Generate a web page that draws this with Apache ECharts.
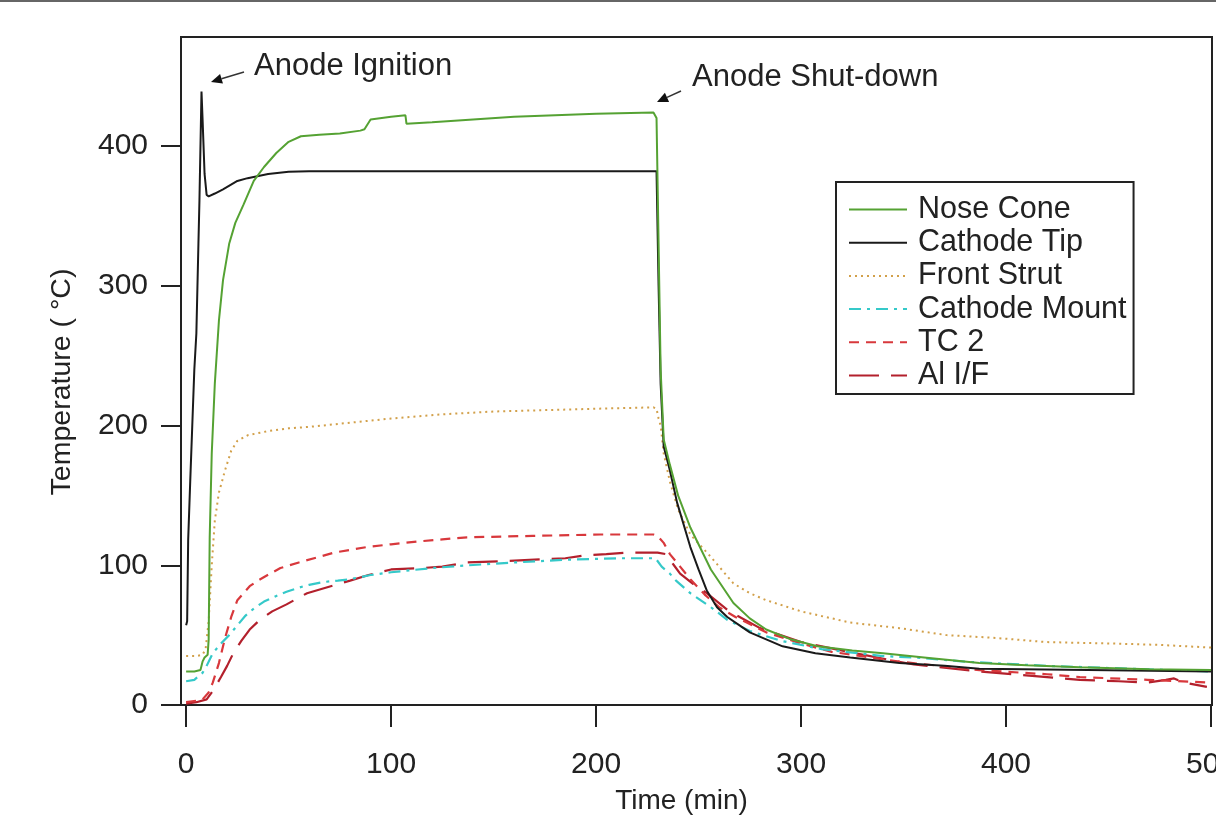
<!DOCTYPE html>
<html>
<head>
<meta charset="utf-8">
<script src="https://cdn.jsdelivr.net/npm/echarts@6/dist/echarts.min.js"></script>
<style>
html,body{margin:0;padding:0;background:#fff;}
#chart{width:1216px;height:829px;}
</style>
</head>
<body>
<div id="chart"></div>
<script>
// ---- data (time in min, temperature in °C) ----
const seriesNames = ['Nose Cone', 'Cathode Tip', 'Front Strut', 'Cathode Mount', 'TC 2', 'Al I/F'];
const xTicks = [0, 100, 200, 300, 400, 500];
const yTicks = [0, 100, 200, 300, 400];

const noseCone = [[0,24],[4,24],[7,25],[8,31],[9,34],[10.5,36],[11,47],[11.5,120],[12.5,180],[14,230],[16,275],[18,304],[21,330],[24,345],[28,358],[33,375],[38,385],[44,395],[50,403],[56,407],[65,408],[75,409],[85,411],[87,412],[90,419],[100,421],[107,422],[107.5,416],[120,417],[140,419],[160,421],[180,422],[200,423],[228,424],[229.5,420],[230.5,330],[231.5,240],[233,190],[236,172],[240,150],[246,127],[256,97],[267,73],[275,62],[283,54],[295,47],[308,42],[325,39],[340,37],[360,34],[387,30],[410,28.5],[436,27],[470,25.5],[500,25]];

const cathodeTip = [[0,57],[0.5,60],[1,118],[2,160],[3,200],[4,240],[5,266],[6,330],[6.5,361],[7.5,439],[8,420],[9,380],[10,365],[11,364],[14,366],[18,369],[25,375],[30,377],[40,380],[50,381.5],[60,382],[100,382],[150,382],[200,382],[229.5,382],[230.5,300],[231.5,230],[233,185],[236,168],[239.5,145],[246,113],[250,97],[254,82],[259,70],[264,63],[270,57],[275,52],[283,47],[291,42],[307,37],[324,34],[348,30],[370,28],[387,26],[440,25],[500,24]];

const frontStrut = [[0,35],[5,35],[8,36],[9.5,40],[11,60],[12.5,100],[14,132],[16,152],[19,168],[22,182],[25,189],[30,193],[40,196],[50,198],[60,199],[80,202],[100,205],[125,208],[150,210],[175,211],[200,212],[228,213],[229.5,212],[230.5,205],[231.5,200],[233,180],[236,160],[240,140],[246,122],[256,106],[267,87],[275,80],[283,75],[300,67],[324,59],[348,55],[371,50],[395,48],[420,45],[452,44],[475,43],[501,41]];

const cathodeMount = [[0,17],[4,18],[8,23],[10,28],[13,37],[17,44],[21,50],[25,57],[29,64],[33,69],[38,74],[44,78],[49,81],[55,84],[60,86],[67,88],[74,89],[80,90],[90,93],[100,95],[120,98],[138,100],[160,102],[186,104],[210,105],[229,105],[232,99],[236,94],[239,89],[246,80],[256,70],[264,61],[275,53],[290,46],[310,40],[340,35],[355,34],[380,31],[420,28],[460,26],[500,24]];

const tc2 = [[0,2],[5,3],[8,4],[11,9],[13,16],[16,30],[19,48],[22,63],[25,75],[28,80],[31,85],[35,89],[38.5,92],[46,98],[55,102],[65,106],[72,109],[80,111],[88,113],[100,115],[113,117],[125,118.5],[137,120],[169,121],[202,122],[228,122],[230,121],[233,116],[236,108],[241,99],[246,90],[253,79],[260,70],[268,63],[283,52],[300,44],[315,38],[348,31],[387,25],[420,22],[436,20],[469,18],[500,16]];

const alIF = [[0,1],[5,2],[10,4],[13,10],[17,20],[20,28],[23,37],[27,46],[31,54],[36,61],[42,67],[49,72],[54,76],[59,80],[66,83],[73,86],[80,89],[89,93],[100,97],[115,98],[125,99],[137,102],[155,103],[170,104],[185,105],[194,107],[205,108],[215,109],[226,109],[230,109],[234,108],[238,100],[241,94],[247,87],[254,80],[265,67],[280,55],[300,45],[330,36],[355,29],[387,24],[420,20],[436,18],[455,17],[469,16],[478,18],[482,19],[487,16],[498,13]];

const seriesData = [noseCone, cathodeTip, frontStrut, cathodeMount, tc2, alIF];

// ---- styles ----
const colors = ['#55a233', '#1a1a1a', '#d2a04a', '#35c9c9', '#d8383c', '#b3202c'];
const dashTypes = ['solid', 'solid', [2, 4], [12, 6, 3, 6], [10, 7], [30, 12]];
const widths = [2, 2, 2, 2.2, 2.2, 2.2];
const FONT = '"Liberation Sans", Arial, sans-serif';

const chart = echarts.init(document.getElementById('chart'), null, {renderer: 'canvas'});

const series = seriesNames.map((name, i) => ({
  name: name,
  type: 'line',
  data: seriesData[i],
  showSymbol: false,
  symbol: 'none',
  smooth: false,
  animation: false,
  lineStyle: {color: colors[i], width: widths[i], type: dashTypes[i]},
  itemStyle: {color: colors[i]},
  z: 10 - i
}));

function arrow(x1, y1, x2, y2) {
  const ang = Math.atan2(y2 - y1, x2 - x1);
  const L = 11, W = 5;
  const bx = x2 - L * Math.cos(ang), by = y2 - L * Math.sin(ang);
  const px = -Math.sin(ang) * W, py = Math.cos(ang) * W;
  return [
    {type: 'line', shape: {x1: x1, y1: y1, x2: bx, y2: by}, style: {stroke: '#333', lineWidth: 1.5}},
    {type: 'polygon', shape: {points: [[x2, y2], [bx + px, by + py], [bx - px, by - py]]}, style: {fill: '#111'}}
  ];
}

const option = {
  backgroundColor: '#fff',
  animation: false,
  grid: {left: 181, right: 4, top: 37, bottom: 124, show: true, borderColor: '#222', borderWidth: 2, backgroundColor: 'transparent', containLabel: false, outerBoundsMode: 'none'},
  xAxis: {
    type: 'value', min: -2.5, max: 500.5,
    name: 'Time (min)', nameLocation: 'middle', nameGap: 82,
    nameTextStyle: {fontFamily: FONT, fontSize: 28, color: '#222', padding: [0, 30, 0, 0]},
    axisLine: {show: true, onZero: false, lineStyle: {color: '#222', width: 2}},
    axisTick: {show: true, inside: false, length: 22, lineStyle: {color: '#222', width: 2}, customValues: xTicks},
    axisLabel: {margin: 45, fontFamily: FONT, fontSize: 30, color: '#222', customValues: xTicks},
    splitLine: {show: false}
  },
  yAxis: {
    type: 'value', min: 0, max: 478,
    name: 'Temperature ( °C)', nameLocation: 'middle', nameGap: 104, nameRotate: 90,
    nameTextStyle: {fontFamily: FONT, fontSize: 28.5, color: '#222', padding: [0, 22, 0, 0]},
    axisLine: {show: true, onZero: false, lineStyle: {color: '#222', width: 2}},
    axisTick: {show: true, inside: false, length: 20, lineStyle: {color: '#222', width: 2}, customValues: yTicks},
    axisLabel: {margin: 33, fontFamily: FONT, fontSize: 30, color: '#222', customValues: yTicks},
    splitLine: {show: false}
  },
  legend: {
    data: seriesNames,
    orient: 'vertical',
    left: 836, top: 182,
    padding: [12, 7, 3, 12],
    itemWidth: 58, itemHeight: 2, itemGap: 2.2,
    itemStyle: {opacity: 0},
    borderColor: '#222', borderWidth: 2, backgroundColor: '#fff',
    textStyle: {fontFamily: FONT, fontSize: 30.5, color: '#222', padding: [0, 0, 0, 6]},
    selectedMode: false
  },
  graphic: [
    {type: 'rect', shape: {x: 0, y: 0, width: 1216, height: 2}, style: {fill: '#666'}},
    {type: 'text', left: 254, top: 51, style: {text: 'Anode Ignition', font: '31px ' + FONT, fill: '#222'}},
    {type: 'text', left: 692, top: 62, style: {text: 'Anode Shut-down', font: '31px ' + FONT, fill: '#222'}},
    ...arrow(244, 72, 211, 82),
    ...arrow(681, 91, 657, 102)
  ],
  series: series
};
chart.setOption(option);
</script>
</body>
</html>
